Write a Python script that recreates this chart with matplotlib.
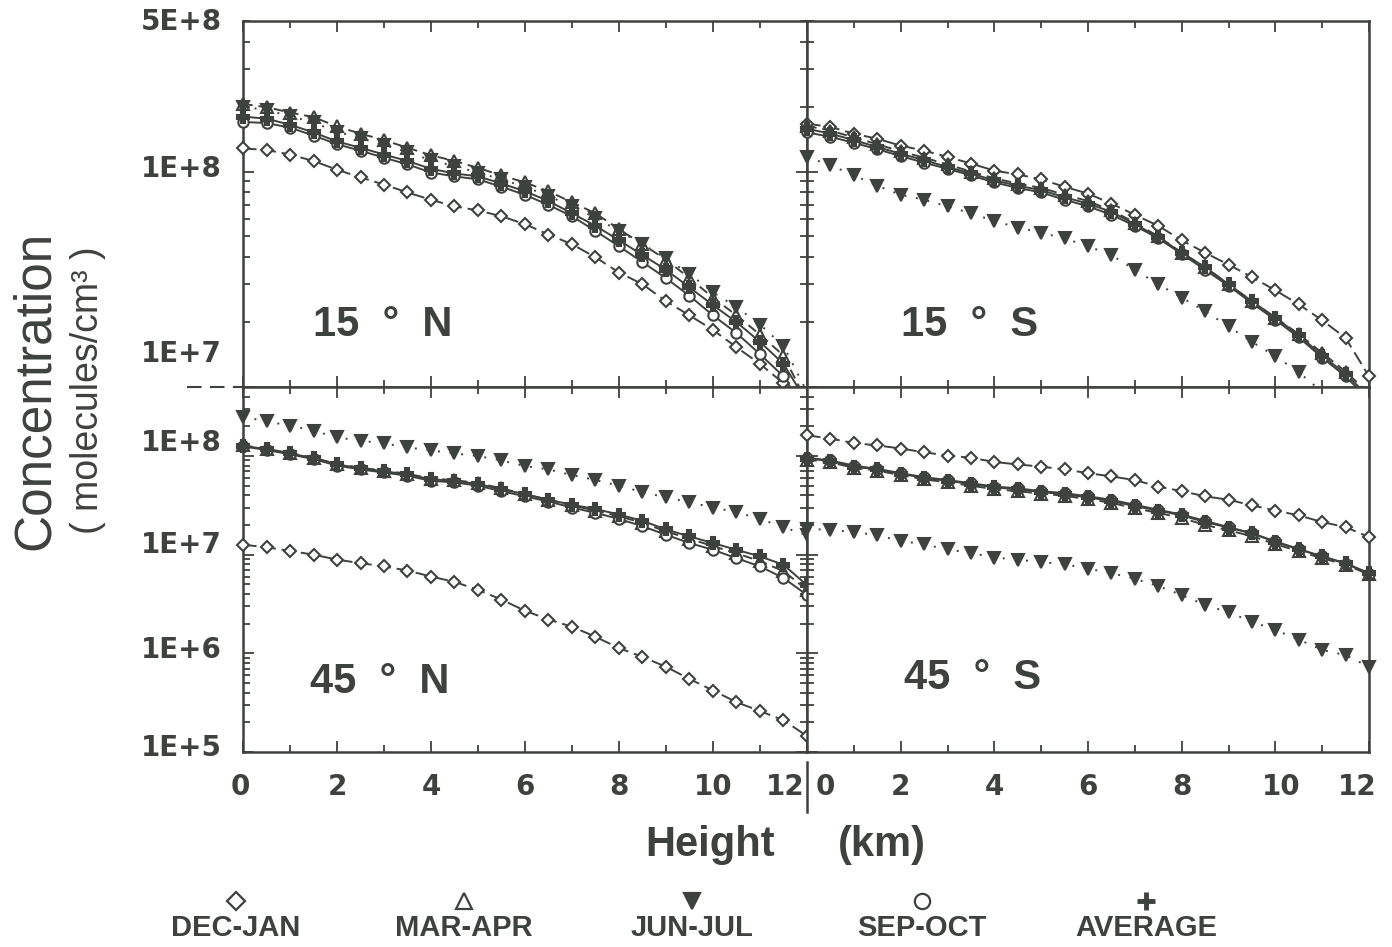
import matplotlib
matplotlib.use("Agg")
import matplotlib.pyplot as plt
import numpy as np
from matplotlib.lines import Line2D
from matplotlib.ticker import MultipleLocator, LogLocator, NullFormatter
from matplotlib.transforms import offset_copy

INK = "#3d423e"

HEIGHT_KM = [0, 0.5, 1, 1.5, 2, 2.5, 3, 3.5, 4, 4.5, 5, 5.5, 6,
             6.5, 7, 7.5, 8, 8.5, 9, 9.5, 10, 10.5, 11, 11.5, 12]

SEASONS = ["DEC-JAN", "MAR-APR", "JUN-JUL", "SEP-OCT", "AVERAGE"]

# 15 N
dec_jan_15n = [1.28e8, 1.26e8, 1.20e8, 1.12e8, 1.02e8, 9.4e7, 8.7e7, 8.0e7, 7.4e7, 6.9e7, 6.6e7, 6.2e7, 5.7e7,
               5.1e7, 4.6e7, 4.0e7, 3.4e7, 3.0e7, 2.5e7, 2.15e7, 1.84e7, 1.53e7, 1.28e7, 1.04e7, 8.0e6]
mar_apr_15n = [2.06e8, 1.99e8, 1.88e8, 1.79e8, 1.62e8, 1.50e8, 1.40e8, 1.29e8, 1.19e8, 1.12e8, 1.04e8, 9.6e7, 8.9e7,
               8.1e7, 7.2e7, 6.4e7, 5.4e7, 4.6e7, 3.9e7, 3.2e7, 2.6e7, 2.15e7, 1.75e7, 1.40e7, 8.5e6]
jun_jul_15n = [2.0e8, 1.93e8, 1.81e8, 1.69e8, 1.53e8, 1.43e8, 1.33e8, 1.23e8, 1.13e8, 1.06e8, 9.9e7, 9.2e7, 8.5e7,
               7.7e7, 6.9e7, 6.1e7, 5.3e7, 4.6e7, 3.95e7, 3.35e7, 2.75e7, 2.35e7, 1.95e7, 1.55e7, 9.5e6]
sep_oct_15n = [1.70e8, 1.68e8, 1.60e8, 1.47e8, 1.34e8, 1.25e8, 1.16e8, 1.08e8, 9.9e7, 9.5e7, 9.2e7, 8.5e7, 7.8e7,
               7.0e7, 6.2e7, 5.3e7, 4.5e7, 3.8e7, 3.2e7, 2.65e7, 2.15e7, 1.78e7, 1.42e7, 1.12e7, 7.5e6]
average_15n = [1.80e8, 1.76e8, 1.65e8, 1.52e8, 1.38e8, 1.29e8, 1.20e8, 1.12e8, 1.03e8, 9.8e7, 9.5e7, 8.8e7, 8.1e7,
               7.3e7, 6.4e7, 5.6e7, 4.8e7, 4.1e7, 3.5e7, 2.9e7, 2.4e7, 2.0e7, 1.62e7, 1.28e7, 8.5e6]

# 15 S
dec_jan_15s = [1.67e8, 1.61e8, 1.50e8, 1.42e8, 1.32e8, 1.25e8, 1.17e8, 1.09e8, 1.01e8, 9.7e7, 9.2e7, 8.5e7, 7.9e7,
               7.1e7, 6.3e7, 5.6e7, 4.8e7, 4.2e7, 3.7e7, 3.24e7, 2.81e7, 2.42e7, 2.04e7, 1.69e7, 1.12e7]
mar_apr_15s = [1.63e8, 1.55e8, 1.44e8, 1.34e8, 1.24e8, 1.16e8, 1.08e8, 1.0e8, 9.3e7, 8.8e7, 8.4e7, 7.8e7, 7.3e7,
               6.6e7, 5.8e7, 5.0e7, 4.2e7, 3.6e7, 3.0e7, 2.5e7, 2.1e7, 1.76e7, 1.44e7, 1.18e7, 9.3e6]
jun_jul_15s = [1.17e8, 1.07e8, 9.6e7, 8.6e7, 7.8e7, 7.4e7, 6.9e7, 6.4e7, 5.9e7, 5.5e7, 5.2e7, 4.9e7, 4.5e7,
               4.1e7, 3.5e7, 3.0e7, 2.6e7, 2.25e7, 1.91e7, 1.62e7, 1.39e7, 1.17e7, 9.5e6, 7.6e6, 6.0e6]
sep_oct_15s = [1.52e8, 1.45e8, 1.36e8, 1.27e8, 1.18e8, 1.10e8, 1.03e8, 9.6e7, 8.9e7, 8.4e7, 8.0e7, 7.4e7, 6.9e7,
               6.3e7, 5.6e7, 4.9e7, 4.15e7, 3.5e7, 2.95e7, 2.45e7, 2.05e7, 1.7e7, 1.37e7, 1.12e7, 8.7e6]
average_15s = [1.58e8, 1.50e8, 1.40e8, 1.30e8, 1.21e8, 1.13e8, 1.05e8, 9.8e7, 9.1e7, 8.6e7, 8.2e7, 7.6e7, 7.1e7,
               6.5e7, 5.7e7, 4.97e7, 4.2e7, 3.6e7, 3.0e7, 2.5e7, 2.1e7, 1.74e7, 1.40e7, 1.15e7, 9.0e6]

# 45 N
dec_jan_45n = [1.26e7, 1.19e7, 1.09e7, 1.0e7, 8.9e6, 8.2e6, 7.6e6, 6.9e6, 6.0e6, 5.3e6, 4.4e6, 3.5e6, 2.7e6,
               2.2e6, 1.86e6, 1.47e6, 1.13e6, 9.2e5, 7.3e5, 5.5e5, 4.2e5, 3.2e5, 2.6e5, 2.1e5, 1.45e5]
mar_apr_45n = [1.28e8, 1.18e8, 1.07e8, 9.6e7, 8.3e7, 7.6e7, 7.1e7, 6.6e7, 5.9e7, 5.7e7, 5.3e7, 4.7e7, 4.1e7,
               3.6e7, 3.15e7, 2.8e7, 2.45e7, 2.1e7, 1.72e7, 1.45e7, 1.22e7, 1.03e7, 8.6e6, 6.8e6, 4.4e6]
jun_jul_45n = [2.5e8, 2.24e8, 2.03e8, 1.80e8, 1.54e8, 1.43e8, 1.34e8, 1.22e8, 1.14e8, 1.06e8, 1.0e8, 9.0e7, 7.9e7,
               7.3e7, 6.4e7, 5.7e7, 5.0e7, 4.3e7, 3.8e7, 3.4e7, 3.0e7, 2.7e7, 2.3e7, 1.9e7, 1.57e7]
sep_oct_45n = [1.25e8, 1.15e8, 1.04e8, 9.3e7, 8.0e7, 7.3e7, 6.8e7, 6.3e7, 5.6e7, 5.4e7, 5.0e7, 4.4e7, 3.9e7,
               3.45e7, 3.0e7, 2.65e7, 2.3e7, 1.94e7, 1.59e7, 1.31e7, 1.12e7, 9.2e6, 7.6e6, 5.8e6, 3.9e6]
average_45n = [1.27e8, 1.17e8, 1.06e8, 9.5e7, 8.2e7, 7.5e7, 7.0e7, 6.5e7, 5.8e7, 5.6e7, 5.2e7, 4.6e7, 4.1e7,
               3.6e7, 3.2e7, 2.9e7, 2.55e7, 2.2e7, 1.8e7, 1.53e7, 1.31e7, 1.12e7, 9.6e6, 7.9e6, 4.9e6]

# 45 S
dec_jan_45s = [1.62e8, 1.50e8, 1.35e8, 1.28e8, 1.19e8, 1.09e8, 1.01e8, 9.6e7, 8.7e7, 8.2e7, 7.8e7, 7.3e7, 6.7e7,
               6.2e7, 5.7e7, 4.9e7, 4.4e7, 3.9e7, 3.6e7, 3.16e7, 2.8e7, 2.5e7, 2.14e7, 1.9e7, 1.51e7]
mar_apr_45s = [9.2e7, 8.6e7, 7.6e7, 7.1e7, 6.4e7, 5.8e7, 5.4e7, 5.0e7, 4.6e7, 4.4e7, 4.15e7, 3.95e7, 3.65e7,
               3.35e7, 2.95e7, 2.65e7, 2.35e7, 2.0e7, 1.76e7, 1.54e7, 1.28e7, 1.08e7, 9.2e6, 7.9e6, 6.3e6]
jun_jul_45s = [1.84e7, 1.77e7, 1.70e7, 1.57e7, 1.38e7, 1.27e7, 1.13e7, 1.04e7, 9.35e6, 8.9e6, 8.4e6, 8.0e6, 7.2e6,
               6.5e6, 5.7e6, 4.8e6, 3.9e6, 3.1e6, 2.6e6, 2.1e6, 1.72e6, 1.38e6, 1.08e6, 9.6e5, 7.3e5]
sep_oct_45s = [9.6e7, 9.0e7, 8.0e7, 7.4e7, 6.7e7, 6.1e7, 5.7e7, 5.3e7, 4.9e7, 4.7e7, 4.4e7, 4.2e7, 3.9e7,
               3.6e7, 3.2e7, 2.85e7, 2.55e7, 2.2e7, 1.9e7, 1.65e7, 1.36e7, 1.14e7, 9.6e6, 8.1e6, 6.4e6]
average_45s = [9.4e7, 8.9e7, 7.8e7, 7.3e7, 6.6e7, 6.0e7, 5.6e7, 5.2e7, 4.8e7, 4.6e7, 4.3e7, 4.1e7, 3.8e7,
               3.5e7, 3.1e7, 2.8e7, 2.5e7, 2.14e7, 1.88e7, 1.64e7, 1.35e7, 1.13e7, 9.6e6, 8.2e6, 6.5e6]

PANEL_LABELS = ["15  \u00b0  N", "15  \u00b0  S", "45  \u00b0  N", "45  \u00b0  S"]
X_TICKS = [0, 2, 4, 6, 8, 10, 12]

# marker / line style per season
STYLES = {
    "DEC-JAN": dict(marker="D", ms=6.5, mfc="white", ls=(0, (7, 3))),
    "MAR-APR": dict(marker="^", ms=8, mfc="white", ls=(0, (5, 3))),
    "JUN-JUL": dict(marker="v", ms=8.5, mfc=INK, ls=(0, (1, 5))),
    "SEP-OCT": dict(marker="o", ms=7.5, mfc="white", ls="-"),
    "AVERAGE": dict(marker="P", ms=8, mfc=INK, ls="-"),
}

fig = plt.figure(figsize=(13.92, 9.47), dpi=100)
W, H = 1392.0, 947.0


def rect(x0, y0, x1, y1):
    return [x0 / W, 1 - y1 / H, (x1 - x0) / W, (y1 - y0) / H]


ax_tl = fig.add_axes(rect(243, 21, 807, 387))
ax_tr = fig.add_axes(rect(807, 21, 1369, 387))
ax_bl = fig.add_axes(rect(243, 387, 807, 752))
ax_br = fig.add_axes(rect(807, 387, 1369, 752))

panels = [
    (ax_tl, [dec_jan_15n, mar_apr_15n, jun_jul_15n, sep_oct_15n, average_15n], (1e7, 5e8)),
    (ax_tr, [dec_jan_15s, mar_apr_15s, jun_jul_15s, sep_oct_15s, average_15s], (1e7, 5e8)),
    (ax_bl, [dec_jan_45n, mar_apr_45n, jun_jul_45n, sep_oct_45n, average_45n], (1e5, 5e8)),
    (ax_br, [dec_jan_45s, mar_apr_45s, jun_jul_45s, sep_oct_45s, average_45s], (1e5, 5e8)),
]

label_pos = [(0.248, 0.169), (0.29, 0.169), (0.243, 0.192), (0.294, 0.203)]

for i, (ax, series, (lo, hi)) in enumerate(panels):
    ax.set_yscale("log")
    ax.set_xlim(0, 12)
    ax.set_ylim(lo, hi)
    for name, vals in zip(SEASONS, series):
        st = STYLES[name]
        y = np.array(vals, dtype=float)
        ax.plot(HEIGHT_KM, y, color=INK, lw=1.4, ls=st["ls"], zorder=2)
        ym = np.where((y >= lo) & (y <= hi), y, np.nan)
        ax.plot(HEIGHT_KM, ym, ls="none", marker=st["marker"], ms=st["ms"],
                mfc=st["mfc"], mec=INK, mew=1.5, clip_on=False, zorder=3)
    for sp in ax.spines.values():
        sp.set_color(INK)
        sp.set_linewidth(1.8)
    ax.xaxis.set_major_locator(MultipleLocator(2))
    ax.xaxis.set_minor_locator(MultipleLocator(1))
    ax.yaxis.set_major_locator(LogLocator(base=10, numticks=10))
    ax.yaxis.set_minor_locator(LogLocator(base=10, subs=np.arange(2, 10), numticks=20))
    ax.yaxis.set_minor_formatter(NullFormatter())
    right_ticks = ax in (ax_tl, ax_bl)
    ax.tick_params(which="both", direction="in", color=INK, width=1.3,
                   left=True, right=right_ticks, top=True, bottom=True,
                   labelleft=False, labelbottom=False)
    ax.tick_params(which="major", length=8)
    ax.tick_params(which="minor", length=5)
    ax.text(label_pos[i][0], label_pos[i][1], PANEL_LABELS[i], transform=ax.transAxes,
            ha="center", va="center", fontsize=30, fontweight="bold",
            family="Liberation Sans", color=INK)

# y tick labels (positions shifted as in the original figure)
tick_font = dict(fontsize=20, fontweight="bold", family="DejaVu Sans", color=INK)
y_labels = [
    (ax_tl, 5e8, "5E+8", -1), (ax_tl, 1e8, "1E+8", 3), (ax_tl, 1e7, "1E+7", 33),
    (ax_bl, 1e8, "1E+8", 13), (ax_bl, 1e7, "1E+7", 10), (ax_bl, 1e6, "1E+6", 3),
    (ax_bl, 1e5, "1E+5", 4),
]
for ax, val, txt, dy in y_labels:
    tr = offset_copy(ax.get_yaxis_transform(), fig=fig, x=-21, y=dy, units="dots")
    ax.text(0, val, txt, transform=tr, ha="right", va="center", **tick_font)

# x tick labels
x_shift_left = {0: -3, 12: -22}
x_shift_right = {0: 18, 10: 6, 12: -12}
for ax, shifts in ((ax_bl, x_shift_left), (ax_br, x_shift_right)):
    for xv in X_TICKS:
        tr = offset_copy(ax.get_xaxis_transform(), fig=fig, x=shifts.get(xv, 0), y=-35, units="dots")
        ax.text(xv, 0, str(xv), transform=tr, ha="center", va="center", **tick_font)

# little separators seen in the original
fig.add_artist(Line2D([187 / W, 243 / W], [1 - 387 / H, 1 - 387 / H], transform=fig.transFigure,
                      color=INK, lw=1.5, ls=(0, (7, 4))))
fig.add_artist(Line2D([807 / W, 807 / W], [1 - 762 / H, 1 - 812 / H], transform=fig.transFigure,
                      color=INK, lw=1.8))

# axis titles
fig.text(35 / W, 1 - 390 / H, "Concentration", rotation=90, ha="center", va="center",
         fontsize=37, family="Liberation Sans", color=INK)
fig.text(88 / W, 1 - 390 / H, "( molecules/cm\u00b3 )", rotation=90, ha="center", va="center",
         fontsize=27, family="Liberation Sans", color=INK)
fig.text(710 / W, 1 - 845 / H, "Height", ha="center", va="center",
         fontsize=30, fontweight="bold", family="Liberation Sans", color=INK)
fig.text(882 / W, 1 - 845 / H, "(km)", ha="center", va="center",
         fontsize=30, fontweight="bold", family="Liberation Sans", color=INK)

# legend row
legend_x = [236, 464, 692, 922, 1146]
legend_ms = {"DEC-JAN": 9, "MAR-APR": 11, "JUN-JUL": 12, "SEP-OCT": 11, "AVERAGE": 13}
for name, lx in zip(SEASONS, legend_x):
    st = STYLES[name]
    mk = "+" if name == "AVERAGE" else st["marker"]
    fig.add_artist(Line2D([lx / W], [1 - 901 / H], transform=fig.transFigure, ls="none",
                          marker=mk, ms=legend_ms[name], mfc=st["mfc"], mec=INK,
                          mew=3.5 if mk == "+" else 1.6))
    fig.text(lx / W, 1 - 928 / H, name, ha="center", va="center", fontsize=21,
             fontweight="bold", family="Liberation Sans", color=INK)

fig.savefig("out.png", dpi=100)
